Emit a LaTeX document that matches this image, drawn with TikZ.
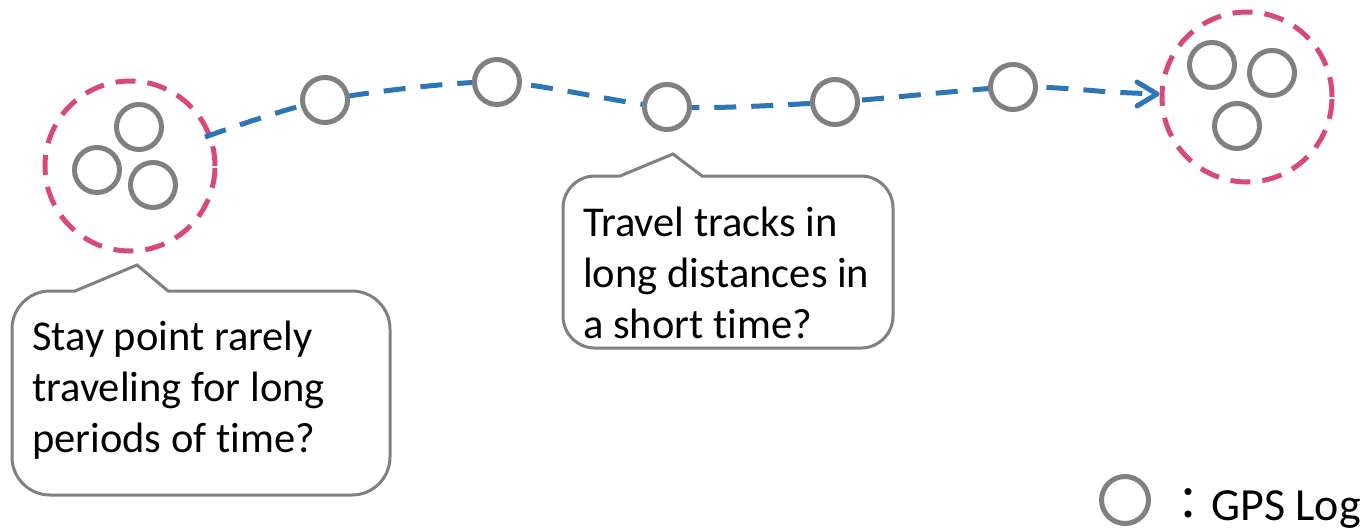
\documentclass[tikz,border=0pt]{standalone}
\usepackage{fontspec}
\setmainfont{Carlito}[Ligatures={NoCommon}]
\newfontfamily\cjk{Noto Sans CJK TC}
\usetikzlibrary{arrows.meta}
\definecolor{logGray}{RGB}{128,128,128}
\definecolor{stayPink}{RGB}{217,72,122}
\definecolor{trackBlue}{RGB}{46,117,182}
\begin{document}
\begin{tikzpicture}[x=1pt,y=-1pt,
  gpslog/.style={circle,draw=logGray,line width=5pt,fill=white,minimum size=45pt,inner sep=0pt},
  staycluster/.style={circle,draw=stayPink,line width=5pt,dash pattern=on 20pt off 12pt,minimum size=170pt,inner sep=0pt},
  track/.style={draw=trackBlue,line width=5pt,dash pattern=on 22pt off 15pt},
  calloutline/.style={draw=logGray,line width=3pt,fill=white,line join=miter},
  callouttext/.style={anchor=base west,align=left,inner sep=0pt,font=\fontsize{42.5}{51}\selectfont}]
\useasboundingbox (0,0) rectangle (1370,531);
% stay point clusters
\node[staycluster] (sA) at (130,166) {};
\node[staycluster] (sB) at (1247,97) {};
% travel track
\coordinate (start) at (205,137);
\coordinate (tip) at (1157,94);
\draw[track,line cap=butt] plot[smooth,tension=0.45] coordinates {(start) (325,100) (497,82) (667,107) (835,102) (1013,87) (1108,92)} -- (tip);
\draw[trackBlue,line width=5pt,line cap=round,line join=round] (1137,82) -- (tip) -- (1137,106);
% GPS logs
\node[gpslog] (a1) at (139,127) {};
\node[gpslog] (a2) at (97,170) {};
\node[gpslog] (a3) at (153,185) {};
\node[gpslog] (t1) at (325,100) {};
\node[gpslog] (t2) at (497,82) {};
\node[gpslog] (t3) at (667,107) {};
\node[gpslog] (t4) at (835,102) {};
\node[gpslog] (t5) at (1013,87) {};
\node[gpslog] (b1) at (1212,65) {};
\node[gpslog] (b2) at (1272,73) {};
\node[gpslog] (b3) at (1237,126) {};
% callout 1
\draw[calloutline] (75,291) -- (137,265) -- (168,291) -- (352,291)
  arc[start angle=-90,end angle=0,radius=38] -- (390,457)
  arc[start angle=0,end angle=90,radius=38] -- (50,495)
  arc[start angle=90,end angle=180,radius=38] -- (12,329)
  arc[start angle=180,end angle=270,radius=38] -- cycle;
\node[callouttext] (c1) at (32,452) {Stay point rarely\\traveling for long\\periods of time?};
% callout 2
\draw[calloutline] (620,176) -- (673,154) -- (702,176) -- (861,176)
  arc[start angle=-90,end angle=0,radius=32] -- (893,316)
  arc[start angle=0,end angle=90,radius=32] -- (595,348)
  arc[start angle=90,end angle=180,radius=32] -- (563,208)
  arc[start angle=180,end angle=270,radius=32] -- cycle;
\node[callouttext] (c2) at (583,338) {Travel tracks in\\long distances in\\a short time?};
% legend
\node[gpslog,minimum size=47pt] (leg) at (1125,500) {};
\node[anchor=base west,inner sep=0pt,font=\fontsize{46}{51}\selectfont] (legtext) at (1165,520) {{\cjk ：}GPS Log};
\end{tikzpicture}
\end{document}
